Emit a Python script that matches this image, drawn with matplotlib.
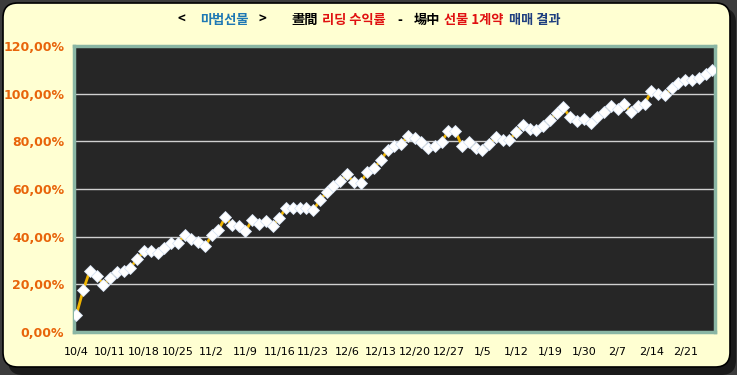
import numpy as np
import matplotlib
matplotlib.use('Agg')
import matplotlib.pyplot as plt
from matplotlib.patches import FancyBboxPatch

# daily cumulative return (%)
returns = [7.2, 17.5, 25.8, 23.7, 19.9, 22.5, 25.3, 25.4, 26.9, 30.8,
           33.9, 33.9, 33.0, 35.1, 37.4, 37.4, 40.5, 38.9, 37.9, 36.0,
           40.5, 42.8, 48.1, 45.0, 44.4, 42.2, 47.2, 45.3, 46.7, 44.6,
           47.9, 52.1, 52.1, 52.0, 51.9, 51.0, 55.3, 58.6, 61.3, 63.3,
           66.1, 62.8, 62.5, 67.1, 68.8, 72.0, 76.3, 78.0, 79.0, 82.2,
           81.4, 79.7, 77.2, 77.9, 79.9, 84.4, 84.4, 78.2, 79.7, 77.2,
           76.4, 78.9, 81.7, 80.4, 80.4, 83.9, 86.7, 85.1, 84.6, 86.3,
           89.0, 91.8, 94.2, 90.0, 88.6, 89.4, 87.5, 90.1, 92.1, 95.0,
           93.6, 95.5, 92.2, 94.9, 95.7, 101.1, 100.0, 99.4, 102.2, 104.6,
           105.6, 105.8, 106.4, 108.2, 110.1]
date_labels = ['10/4', '10/11', '10/18', '10/25', '11/2', '11/9', '11/16', '11/23',
               '12/6', '12/13', '12/20', '12/27', '1/5', '1/12', '1/19', '1/30',
               '2/7', '2/14', '2/21']
label_step = 5
y_ticks = [0, 20, 40, 60, 80, 100, 120]

W, H = 737, 375
fig = plt.figure(figsize=(W / 100, H / 100), dpi=100)
fig.patch.set_facecolor('#3c3c3c')

# shadow + yellow panel
shadow = FancyBboxPatch((8 / W, 0 / H), (W - 9) / W, (H - 8) / H,
                        boxstyle='round,pad=0,rounding_size=0.02',
                        transform=fig.transFigure, facecolor='#1a1a1a',
                        edgecolor='none', mutation_aspect=W / H, zorder=-10)
panel = FancyBboxPatch((3 / W, 8 / H), (W - 10) / W, (H - 11) / H,
                       boxstyle='round,pad=0,rounding_size=0.02',
                       transform=fig.transFigure, facecolor='#ffffd2',
                       edgecolor='black', linewidth=1.2, mutation_aspect=W / H,
                       zorder=-9)
fig.patches.extend([shadow, panel])

ax = fig.add_axes([74 / W, 1 - 332 / H, (715 - 74) / W, (332 - 46) / H])
ax.set_facecolor('#262626')

x = np.arange(len(returns))
ax.plot(x, returns, color='#f0b400', linewidth=2, marker='D', markersize=6.5,
        markerfacecolor='white', markeredgecolor='#d8e4f4', markeredgewidth=0.6,
        zorder=3)

ax.set_xlim(-0.35, len(returns) - 0.6)
ax.set_ylim(0, 120)
ax.set_yticks(y_ticks)
ax.set_yticklabels(['%d,00%%' % v for v in y_ticks], color='#e8640a',
                   fontweight='bold', fontsize=9)
ax.set_xticks(x[::label_step][:len(date_labels)])
ax.set_xticklabels(date_labels, fontsize=8, color='black')
ax.tick_params(length=0)
ax.tick_params(axis='x', pad=11)
ax.tick_params(axis='y', pad=7)
for v in y_ticks[1:-1]:
    ax.axhline(v, color='#d0d0d0', linewidth=1, zorder=1)
for s in ax.spines.values():
    s.set_color('#8ab6a4')
    s.set_linewidth(2.5)

# title in coloured pieces, each placed right after the previous one
# (text, colour, gap before it in pixels)
pieces = [('마법선물', '#1e78b4', 14), ('>', 'black', 10),
          ('晝間', 'black', 25), ('리딩 수익률', '#e01010', 4), ('-', 'black', 12),
          ('場中', 'black', 12), ('선물 1계약', '#e01010', 4), ('매매 결과', '#1f3f7f', 5)]
fam = ['Noto Sans CJK KR', 'DejaVu Sans']
t = fig.text(178 / W, 1 - 20 / H, '<', color='black', fontsize=9.5,
             fontweight='bold', family=fam, va='center')
for s, c, gap in pieces:
    t = ax.annotate(s, xy=(1, 0.5), xycoords=t, xytext=(gap * 0.72, 0),
                    textcoords='offset points', va='center', ha='left',
                    color=c, fontsize=9.5, fontweight='bold', family=fam,
                    annotation_clip=False)

fig.savefig('out.png', dpi=100, facecolor=fig.get_facecolor())
